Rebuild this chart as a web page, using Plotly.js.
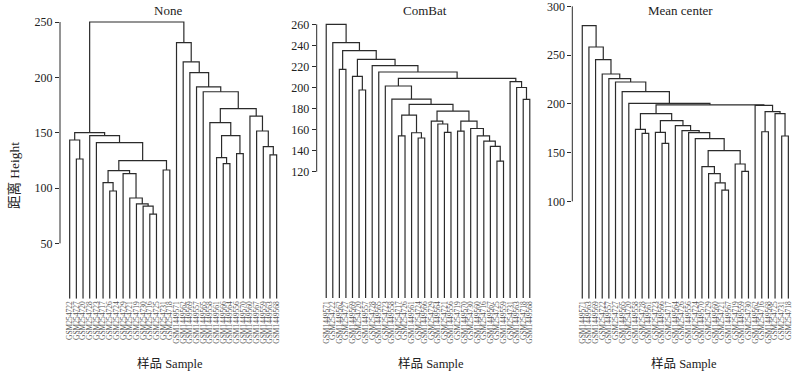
<!DOCTYPE html>
<html><head><meta charset="utf-8">
<script src="https://cdn.plot.ly/plotly-3.0.1.min.js"></script>
<style>body{margin:0;background:#fff}#chart{width:798px;height:375px}</style>
</head><body><div id="chart"></div>
<script>
// ---------- text ----------
const panelTitles = ["None", "ComBat", "Mean center"];
const yTitle = "距离 Height";
const xTitle = "样品 Sample";

// ---------- panel 1: None ----------
const labelsNone = ["GSM254722","GSM254727","GSM254720","GSM254728","GSM254723","GSM254717","GSM254726","GSM254724","GSM254729","GSM254721","GSM254719","GSM254730","GSM254716","GSM254725","GSM254731","GSM254718",
  "GSM1449571","GSM1449562","GSM1449569","GSM1449557","GSM1449565","GSM1449558","GSM1449561","GSM1449566","GSM1449564","GSM1449556","GSM1449570","GSM1449560","GSM1449567","GSM1449559","GSM1449563","GSM1449568"];
// merges: negative = leaf position, positive = earlier merge number
const mergeNone = [[-13,-14],[-12,1],[-11,2],[-10,3],[-7,-8],[-6,5],[-9,4],[6,7],[-15,-16],[8,9],[-2,-3],[-5,10],[-1,11],[-4,12],[13,14],
  [-24,-25],[-23,16],[-31,-32],[-26,-27],[-30,18],[17,19],[-29,20],[-22,21],[-28,22],[23,24],[-21,25],[-20,26],[-19,27],[-18,28],[-17,29],[15,30]];
const heightNone = [76.5,83.7,85.6,91,97.3,104.8,113,115.7,116.3,124.7,126.2,141,143.4,147.3,150,
  122,127.4,130,131,137.4,147.3,151.5,159,165,171.7,187,191.3,204.2,214,231.3,250];
const ticksNone = [50,100,150,200,250];

// ---------- panel 2: ComBat ----------
const labelsComBat = ["GSM1449571","GSM254722","GSM1449562","GSM254727","GSM1449569","GSM254720","GSM1449557","GSM254728","GSM1449565","GSM254723","GSM1449558","GSM254717","GSM254726","GSM1449561","GSM254724","GSM1449566",
  "GSM254729","GSM1449564","GSM254721","GSM1449556","GSM254719","GSM1449570","GSM254730","GSM1449560","GSM254716","GSM1449567","GSM254725","GSM1449559","GSM254731","GSM1449563","GSM254718","GSM1449568"];
const mergeComBat = [[-27,-28],[-26,1],[-25,2],[-24,3],[-15,-16],[-12,-13],[-14,5],[-19,-20],[-21,-22],[-23,4],[-18,8],[-17,11],[9,10],[6,7],[12,13],[14,15],
  [-11,16],[-31,-32],[-30,18],[-10,17],[-29,19],[20,21],[-9,22],[-8,23],[-6,-7],[-5,25],[26,24],[-3,-4],[28,27],[-2,29],[-1,30]];
const heightComBat = [130,144,149,154,152,154,157,157.4,158.5,161,165.3,168.1,168,173.8,177.6,184,
  189,188.7,200,201.4,205.5,208.7,214.7,220.7,197.6,210.6,226.7,217.2,235,242.6,260];
const ticksComBat = [120,140,160,180,200,220,240,260];

// ---------- panel 3: Mean center ----------
const labelsMean = ["GSM1449571","GSM1449563","GSM1449569","GSM254722","GSM1449557","GSM254727","GSM1449565","GSM254720","GSM1449558","GSM254728","GSM1449561","GSM254723","GSM1449566","GSM254717","GSM1449564","GSM254726",
  "GSM1449556","GSM254724","GSM1449570","GSM254729","GSM1449560","GSM254721","GSM1449567","GSM254719","GSM1449559","GSM254730","GSM1449562","GSM254716","GSM1449568","GSM254725","GSM254731","GSM254718"];
const mergeMean = [[-22,-23],[-21,1],[-20,2],[-19,3],[-25,-26],[-24,5],[4,6],[-18,7],[-17,8],[-16,9],[-15,10],[-13,-14],[-12,12],[13,11],[-10,-11],[-9,15],
  [16,14],[-31,-32],[-30,18],[-28,-29],[20,19],[-27,21],[17,22],[-8,23],[-7,24],[-6,25],[-5,26],[-4,27],[-3,28],[-2,29],[-1,30]];
const heightMean = [111.6,119,128.4,135.6,130.8,138.3,152,164.3,170.4,172.5,177.6,159.5,170.8,182.7,169.7,173.8,
  190,167,190,171.4,192,198.5,199,200.5,212.5,222.4,225.8,230.6,245.3,258.3,280.2];
const ticksMean = [100,150,200,250,300];

// ---------- build dendrogram segments from merges ----------
function dendro(merge, heights){
  const pos = [], xs = [], ys = [];
  const gx = c => c < 0 ? -c : pos[c-1];
  const gh = c => c < 0 ? 0 : heights[c-1];
  merge.forEach((m, i) => {
    const xa = gx(m[0]), xb = gx(m[1]), ha = gh(m[0]), hb = gh(m[1]), H = heights[i];
    xs.push(xa, xa, xb, xb, null); ys.push(ha, H, H, hb, null);
    pos[i] = (xa + xb) / 2;
  });
  return {xs, ys};
}

const W = 798, Hh = 375;
const serif = "Liberation Serif, Times New Roman, serif";
const cjk = "Liberation Serif, Noto Sans CJK SC, serif";
const lineCol = "#2b2b2b";

const panels = [
  {labels: labelsNone, merge: mergeNone, heights: heightNone, ticks: ticksNone,
   xdom: [60, 283], xr: [-0.45, 32.95], yr: [0, 265.36], title: panelTitles[0], tx: 168, sx: 170},
  {labels: labelsComBat, merge: mergeComBat, heights: heightComBat, ticks: ticksComBat,
   xdom: [316.7, 537], xr: [-0.45, 33.1], yr: [-0.7, 278.37], title: panelTitles[1], tx: 425, sx: 431},
  {labels: labelsMean, merge: mergeMean, heights: heightMean, ticks: ticksMean,
   xdom: [572.3, 795], xr: [-0.5, 33.0], yr: [0.13, 301.4], title: panelTitles[2], tx: 680, sx: 684}
];

const ydom = [(Hh - 298.7) / Hh, (Hh - 5) / Hh];
const traces = [], layout = {
  width: W, height: Hh, margin: {l: 0, r: 0, t: 0, b: 0},
  paper_bgcolor: "#fff", plot_bgcolor: "#fff", showlegend: false,
  font: {family: serif, color: "#333"},
  annotations: [], shapes: []
};

panels.forEach((p, k) => {
  const n = k === 0 ? "" : String(k + 1);
  const d = dendro(p.merge, p.heights);
  traces.push({type: "scatter", mode: "lines", x: d.xs, y: d.ys,
    xaxis: "x" + n, yaxis: "y" + n, line: {color: lineCol, width: 1.2},
    hoverinfo: "skip", connectgaps: false, cliponaxis: false});
  const leafIdx = p.labels.map((_, i) => i + 1);
  layout["xaxis" + n] = {domain: [p.xdom[0] / W, p.xdom[1] / W], range: p.xr, anchor: "y" + n,
    showgrid: false, zeroline: false, showline: false, ticks: "",
    tickmode: "array", tickvals: leafIdx, ticktext: p.labels, tickangle: -90,
    tickfont: {family: serif, size: 7.5, color: "#555"}, automargin: false, fixedrange: true,
    ticklabeloverflow: "allow"};
  layout["yaxis" + n] = {domain: ydom, range: p.yr, anchor: "x" + n,
    showgrid: false, zeroline: false, showline: false,
    ticks: "outside", ticklen: 4, tickwidth: 1, tickcolor: lineCol,
    tickmode: "array", tickvals: p.ticks, ticktext: p.ticks.map(String),
    tickfont: {family: serif, size: 12, color: "#222"}, automargin: false, fixedrange: true,
    ticklabeloverflow: "allow"};
  layout.shapes.push({type: "line", xref: "paper", yref: "y" + n,
    x0: p.xdom[0] / W, x1: p.xdom[0] / W, y0: p.ticks[0], y1: p.ticks[p.ticks.length - 1],
    line: {color: lineCol, width: 1}});
  layout.annotations.push({text: p.title, xref: "paper", yref: "paper",
    x: p.tx / W, y: 1 - 11 / Hh, showarrow: false, xanchor: "center", yanchor: "middle",
    font: {family: serif, size: 13, color: "#222"}});
  layout.annotations.push({text: xTitle, xref: "paper", yref: "paper",
    x: p.sx / W, y: 1 - 363 / Hh, showarrow: false, xanchor: "center", yanchor: "middle",
    font: {family: cjk, size: 12.5, color: "#222"}});
});
layout.annotations.push({text: yTitle, xref: "paper", yref: "paper",
  x: 14 / W, y: 1 - 176 / Hh, showarrow: false, textangle: -90, xanchor: "center", yanchor: "middle",
  font: {family: cjk, size: 13.5, color: "#222"}});

Plotly.newPlot("chart", traces, layout, {displayModeBar: false, staticPlot: true});
</script></body></html>
